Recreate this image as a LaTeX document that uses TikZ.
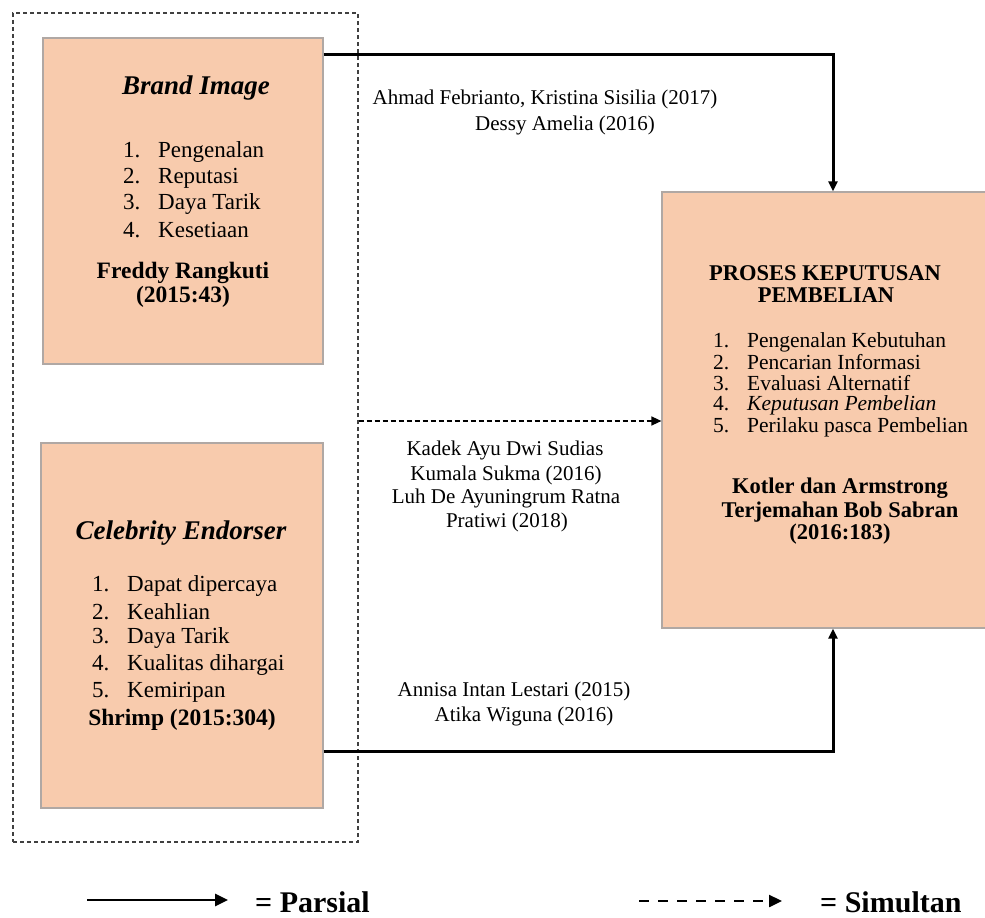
\documentclass[tikz,border=0pt]{standalone}
\usepackage{fontspec}
\setmainfont{Liberation Serif}
\usetikzlibrary{arrows.meta}
\definecolor{peach}{HTML}{F8CBAD}
\definecolor{boxline}{HTML}{B0A8A4}
\begin{document}
\begin{tikzpicture}[x=1pt,y=-1pt,
  box/.style={draw=boxline, line width=1.2pt, fill=peach, inner sep=0pt},
  outerbox/.style={draw=black!75, line width=1.4pt, dash pattern=on 4pt off 3pt, inner sep=0pt},
  txt/.style={inner sep=0pt, font=\fontsize{21}{25}\selectfont},
  lst/.style={inner sep=0pt, anchor=west, font=\fontsize{23}{27}\selectfont},
  plst/.style={inner sep=0pt, anchor=west, font=\fontsize{21.5}{25}\selectfont},
  ttl/.style={inner sep=0pt, font=\fontsize{27}{32}\selectfont\bfseries\itshape},
  bld/.style={inner sep=0pt, font=\fontsize{23.5}{28}\selectfont\bfseries},
  pbld/.style={inner sep=0pt, font=\fontsize{22.5}{27}\selectfont\bfseries},
  parl/.style={line width=3pt, -{Triangle[length=10pt,width=9pt]}},
  siml/.style={line width=1.5pt, dash pattern=on 5pt off 3pt, -{Triangle[length=10pt,width=9pt]}},
  legp/.style={line width=2.8pt, -{Triangle[length=13pt,width=12pt]}},
  legs/.style={line width=2.4pt, dash pattern=on 10pt off 9pt, -{Triangle[length=13pt,width=12pt]}},
  leg/.style={inner sep=0pt, anchor=west, font=\fontsize{30}{36}\selectfont\bfseries}]
\useasboundingbox (0,0) rectangle (985,918);
\fill[white] (0,0) rectangle (985,918);

% outer dashed group box
\node[outerbox, minimum width=345pt, minimum height=829pt] (outer) at (185.5,427.5) {};

% boxes
\node[box, minimum width=280pt, minimum height=326pt] (bi) at (183,201) {};
\node[box, minimum width=282pt, minimum height=365pt] (ce) at (182,625.5) {};
\node[box, minimum width=342pt, minimum height=436pt] (pkp) at (833,410) {};

% Brand Image contents
\node[ttl] (bit) at (196,88) {Brand Image};
\node[lst] (b1) at (123,152) {\makebox[35pt][l]{1.}Pengenalan};
\node[lst] (b2) at (123,178) {\makebox[35pt][l]{2.}Reputasi};
\node[lst] (b3) at (123,204) {\makebox[35pt][l]{3.}Daya Tarik};
\node[lst] (b4) at (123,230) {\makebox[35pt][l]{4.}Kesetiaan};
\node[bld] (bs1) at (183,273) {Freddy Rangkuti};
\node[bld] (bs2) at (183,297) {(2015:43)};

% Celebrity Endorser contents
\node[ttl] (cet) at (181,533) {Celebrity Endorser};
\node[lst] (c1) at (92,586) {\makebox[35pt][l]{1.}Dapat dipercaya};
\node[lst] (c2) at (92,612) {\makebox[35pt][l]{2.}Keahlian};
\node[lst] (c3) at (92,638) {\makebox[35pt][l]{3.}Daya Tarik};
\node[lst] (c4) at (92,665) {\makebox[35pt][l]{4.}Kualitas dihargai};
\node[lst] (c5) at (92,692) {\makebox[35pt][l]{5.}Kemiripan};
\node[bld] (cs) at (182,720) {Shrimp (2015:304)};

% Proses Keputusan Pembelian contents
\node[pbld] (pt1) at (825,273) {PROSES KEPUTUSAN};
\node[pbld] (pt2) at (826,295) {PEMBELIAN};
\node[plst] (p1) at (713,342) {\makebox[34pt][l]{1.}Pengenalan Kebutuhan};
\node[plst] (p2) at (713,362) {\makebox[34pt][l]{2.}Pencarian Informasi};
\node[plst] (p3) at (713,383) {\makebox[34pt][l]{3.}Evaluasi Alternatif};
\node[plst] (p4) at (713,405) {\makebox[34pt][l]{4.}\textit{Keputusan Pembelian}};
\node[plst] (p5) at (713,427) {\makebox[34pt][l]{5.}Perilaku pasca Pembelian};
\node[pbld] (ps1) at (840,488) {Kotler dan Armstrong};
\node[pbld] (ps2) at (840,512) {Terjemahan Bob Sabran};
\node[pbld] (ps3) at (840,534) {(2016:183)};

% connector labels
\node[txt] (a1) at (545,99) {Ahmad Febrianto, Kristina Sisilia (2017)};
\node[txt] (a2) at (565,125) {Dessy Amelia (2016)};
\node[txt] (k1) at (505,450) {Kadek Ayu Dwi Sudias};
\node[txt] (k2) at (506,475) {Kumala Sukma (2016)};
\node[txt] (k3) at (506,498) {Luh De Ayuningrum Ratna};
\node[txt] (k4) at (507,522) {Pratiwi (2018)};
\node[txt] (n1) at (514,691) {Annisa Intan Lestari (2015)};
\node[txt] (n2) at (524,716) {Atika Wiguna (2016)};

% connectors
\draw[parl] ([yshift=-17pt]bi.north east) -| (pkp.north);
\draw[parl] ([yshift=57pt]ce.south east) -| (pkp.south);
\draw[siml] (outer.east |- 0,421) -- (pkp.west |- 0,421);

% legend
\coordinate (lps) at (87,900);
\coordinate (lpe) at (228,900);
\coordinate (lss) at (639,901);
\coordinate (lse) at (782,901);
\draw[legp] (lps) -- (lpe);
\draw[legs] (lss) -- (lse);
\node[leg] (lp) at (255,902) {= Parsial};
\node[leg] (ls) at (820,902) {= Simultan};
\end{tikzpicture}
\end{document}
